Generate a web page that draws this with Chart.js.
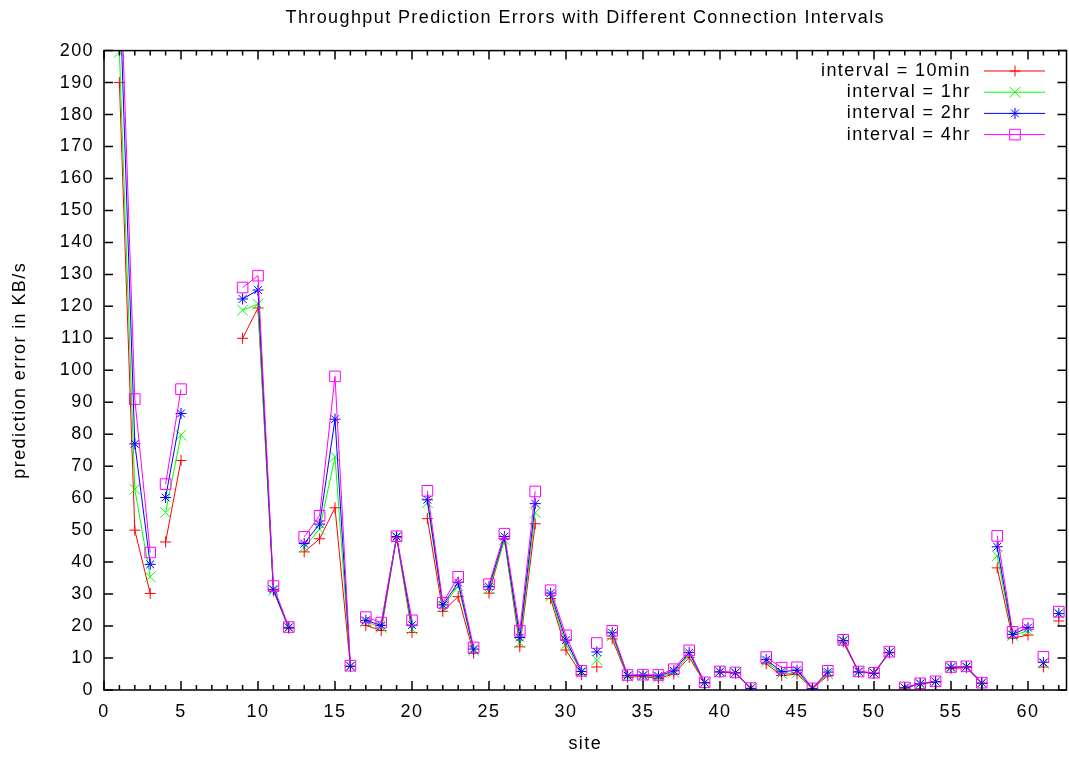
<!DOCTYPE html>
<html>
<head>
<meta charset="utf-8">
<script src="https://cdn.jsdelivr.net/npm/chart.js@4/dist/chart.umd.min.js"></script>
<style>
html,body{margin:0;padding:0;background:#fff;}
canvas{display:block;}
</style>
</head>
<body>
<canvas id="c" width="1069" height="757"></canvas>
<script>
// ---------- data ----------
const sites = [1,2,3,4,5,9,10,11,12,13,14,15,16,17,18,19,20,21,22,23,24,25,26,27,28,29,30,31,32,33,34,35,36,37,38,39,40,41,42,43,44,45,46,47,48,49,50,51,52,53,54,55,56,57,58,59,60,61,62];
const err10min = [190,50,30.2,46.3,71.8,110,119.5,31,19.3,43.2,47.3,57,7.3,20.2,18.6,47.6,18,53.6,24.6,29.2,11.5,30.3,47.3,13.5,52,28.6,12.5,4.8,7.2,16,4,4.2,3.6,5,10.2,2.2,5.6,5.3,0.5,8.2,4.5,5,0.4,4.5,15,5.6,5.2,11.6,0.6,1.9,2.5,6.7,7,2,38.2,16.2,17.2,7.2,21.6];
const err1hr   = [199.5,62.8,35.4,55.5,79.7,118.8,120.7,31.2,19.5,44.6,50.3,73,7.4,21.4,19.6,47.8,19,58.6,26,32.6,12.4,31.6,47,14.8,55.5,29.4,14.3,5.5,9.4,17,4.3,4.5,4,5.5,11,2.3,5.7,5.4,0.5,8.9,5.1,5.4,0.5,5,15.3,5.7,5.3,11.7,0.7,2,2.6,7,7.2,2.2,42,17,18.5,8.3,24];
const err2hr   = [222,77,39.3,60.2,86.5,122.3,125.1,31.5,19.6,45.8,51.9,84.7,7.5,21.8,20.2,48,20.3,59.5,26.6,33.6,12.8,32.3,48,16.4,58.3,30.3,15.6,5.8,11.9,17.9,4.5,4.6,4.4,6,11.7,2.3,5.7,5.4,0.5,9.5,5.7,6.2,0.5,5.6,15.5,5.7,5.3,11.8,0.7,2,2.6,7.1,7.3,2.2,44.8,17.4,19.5,8.6,23.9];
const err4hr   = [235,91,43,64.4,94.1,125.9,129.6,32.5,19.7,47.9,54.5,98.1,7.6,22.8,21.1,48.1,21.8,62.3,27.3,35.4,13.3,33.1,48.9,18.5,62.1,31.2,17.1,6,14.7,18.5,4.7,4.8,4.7,6.5,12.4,2.4,5.8,5.5,0.6,10.3,7,7.1,0.5,6,15.7,5.8,5.4,12,0.8,2.1,2.7,7.2,7.4,2.3,48.2,18.2,20.6,10.4,24.5];
// sites after which the plotted line is broken (separate data blocks)
const breakAfter = [3,5,12,16,20,24,28,31,32,39,42,47,51,54,57,60,61];
const seriesLabels = ['interval = 10min','interval = 1hr','interval = 2hr','interval = 4hr'];
const xTicks = [0,5,10,15,20,25,30,35,40,45,50,55,60];
const yTicks = [0,10,20,30,40,50,60,70,80,90,100,110,120,130,140,150,160,170,180,190,200];
const titleText = 'Throughput Prediction Errors with Different Connection Intervals';
const xTitle = 'site';
const yTitle = 'prediction error in KB/s';

// ---------- build ----------
function toPoints(vals){
  const out = [];
  sites.forEach((s,i)=>{
    out.push({x:s, y:vals[i]});
    if (breakAfter.includes(s)) out.push({x:s+0.5, y:null});
  });
  return out;
}
const styles = [
  {color:'#ff0000', pointStyle:'cross',    radius:5.5},
  {color:'#00ff00', pointStyle:'crossRot', radius:7.5},
  {color:'#0000ff', pointStyle:'star',     radius:5.5},
  {color:'#ff00ff', pointStyle:'rect',     radius:7.5}
];
const allVals = [err10min, err1hr, err2hr, err4hr];
const FONT = 'Liberation Sans, Arial, sans-serif';

const datasets = allVals.map((v,i)=>({
  label: seriesLabels[i],
  data: toPoints(v),
  borderColor: styles[i].color,
  backgroundColor: 'rgba(0,0,0,0)',
  borderWidth: 1,
  pointStyle: styles[i].pointStyle,
  pointRadius: styles[i].radius,
  pointHoverRadius: styles[i].radius,
  pointBorderColor: styles[i].color,
  pointBackgroundColor: 'rgba(0,0,0,0)',
  pointBorderWidth: 1,
  spanGaps: false,
  tension: 0,
  order: 3 - i
}));

const gnuFrame = {
  id: 'gnuFrame',
  beforeDraw(chart){ chart.ctx.letterSpacing = '1.4px'; },
  afterDatasetsDraw(chart){
    const {ctx, chartArea:a, scales:{x, y}} = chart;
    ctx.save();
    ctx.strokeStyle = '#000';
    ctx.lineWidth = 1.5;
    ctx.beginPath();
    for (let v = Math.ceil(x.min); v <= x.max; v++) {
      const px = x.getPixelForValue(v);
      const len = (v % 5 === 0) ? 9 : 5;
      ctx.moveTo(px, a.bottom); ctx.lineTo(px, a.bottom - len);
      ctx.moveTo(px, a.top); ctx.lineTo(px, a.top + len);
    }
    yTicks.forEach(v=>{
      const py = y.getPixelForValue(v);
      ctx.moveTo(a.left, py); ctx.lineTo(a.left + 9, py);
      ctx.moveTo(a.right, py); ctx.lineTo(a.right - 9, py);
    });
    ctx.stroke();
    ctx.strokeRect(a.left, a.top, a.right - a.left, a.bottom - a.top);
    ctx.restore();

    // gnuplot-style key (text, then sample line with marker)
    ctx.save();
    ctx.letterSpacing = '1.4px';
    ctx.font = '18px ' + FONT;
    ctx.textAlign = 'right';
    ctx.textBaseline = 'middle';
    chart.data.datasets.forEach((ds, i)=>{
      const yy = 71 + i * 21.2;
      ctx.fillStyle = '#000';
      ctx.fillText(ds.label, 971, yy);
      ctx.strokeStyle = ds.borderColor;
      ctx.lineWidth = 1;
      ctx.beginPath(); ctx.moveTo(984, yy); ctx.lineTo(1045, yy); ctx.stroke();
      ctx.fillStyle = 'rgba(0,0,0,0)';
      if (Chart.helpers && Chart.helpers.drawPoint) {
        Chart.helpers.drawPoint(ctx, {pointStyle: ds.pointStyle, radius: ds.pointRadius, rotation: 0, borderWidth: 1}, 1015, yy);
      }
    });
    ctx.restore();
  }
};

new Chart(document.getElementById('c'), {
  type: 'line',
  data: { datasets },
  options: {
    responsive: false,
    animation: false,
    devicePixelRatio: 1,
    layout: { autoPadding: false, padding: { left: 0, right: 2.5, top: 0, bottom: 0 } },
    plugins: {
      legend: { display: false },
      tooltip: { enabled: false },
      title: {
        display: true,
        fullSize: false,
        text: titleText,
        color: '#000',
        font: { family: FONT, size: 18, weight: 'normal' },
        padding: { top: 7, bottom: 22 }
      }
    },
    scales: {
      x: {
        type: 'linear',
        min: 0, max: 62.5,
        afterBuildTicks(s){ s.ticks = xTicks.map(v=>({value:v})); },
        afterFit(s){ s.height = 67; s.paddingLeft = 0; s.paddingRight = 0; },
        grid: { display: false, drawTicks: false },
        border: { display: false },
        ticks: { color: '#000', font: { family: FONT, size: 18 }, padding: 11, maxRotation: 0, autoSkip: false },
        title: { display: true, text: xTitle, color: '#000', font: { family: FONT, size: 18 }, padding: { top: 0, bottom: 2 } }
      },
      y: {
        type: 'linear',
        min: 0, max: 200,
        afterBuildTicks(s){ s.ticks = yTicks.map(v=>({value:v})); },
        afterFit(s){ s.width = 104; s.paddingTop = 0; s.paddingBottom = 0; },
        grid: { display: false, drawTicks: false },
        border: { display: false },
        ticks: { color: '#000', font: { family: FONT, size: 18 }, padding: 10, autoSkip: false },
        title: { display: true, text: yTitle, color: '#000', font: { family: FONT, size: 18 }, padding: { top: 9, bottom: 0 } }
      }
    }
  },
  plugins: [gnuFrame]
});
</script>
</body>
</html>
